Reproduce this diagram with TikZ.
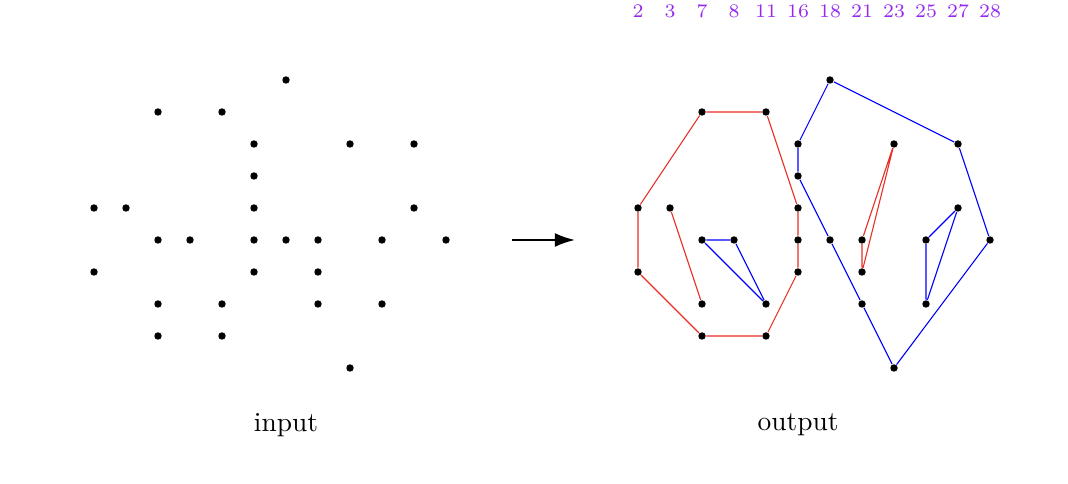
\documentclass[tikz,border=0pt]{standalone}
\usetikzlibrary{arrows.meta}
\definecolor{numviolet}{RGB}{150,40,235}
\definecolor{hullred}{RGB}{232,45,35}
\tikzset{
     pt/.style={circle, fill=black, inner sep=0pt, minimum size=2.7pt},
     xlabel/.style={text=numviolet, font=\scriptsize},
     redhull/.style={hullred, line width=0.4pt},
     bluehull/.style={blue, line width=0.4pt},
     maparrow/.style={black, thick, -{Latex[length=2.6mm,width=1.8mm]}},
    }

\begin{document}
\begin{tikzpicture}[x=0.41cm, y=0.41cm]
    \useasboundingbox (0,0) rectangle (33.375,-15.125);
    % the points, once on the left (a) and once on the right (b)
    \foreach \c/\r in {6/0, 2/1, 4/1, 5/2, 8/2, 10/2, 5/3, 0/4, 1/4, 5/4, 10/4,
                       2/5, 3/5, 5/5, 6/5, 7/5, 9/5, 11/5, 0/6, 5/6, 7/6,
                       2/7, 4/7, 7/7, 9/7, 2/8, 4/8, 8/9} {
        \node [pt] (a\c-\r) at (2.9375+\c, -2.5-\r) {};
        \node [pt] (b\c-\r) at (19.9375+\c, -2.5-\r) {};
    }
    % x values over the columns
    \foreach \v [count=\i from 0] in {2,3,7,8,11,16,18,21,23,25,27,28}
        \node [xlabel] (x\v) at (19.9375+\i, -0.34) {\v};

    \draw [redhull] (b2-1) -- (b4-1) -- (b5-4) -- (b5-5) -- (b5-6) -- (b4-8)
        -- (b2-8) -- (b0-6) -- (b0-4) -- (b2-1);
    \draw [redhull] (b1-4) -- (b2-7);
    \draw [redhull] (b8-2) -- (b7-5) -- (b7-6) -- (b8-2);
    \draw [bluehull] (b6-0) -- (b10-2) -- (b11-5) -- (b8-9) -- (b7-7) -- (b6-5)
        -- (b5-3) -- (b5-2) -- (b6-0);
    \draw [bluehull] (b2-5) -- (b3-5) -- (b4-7) -- (b2-5);
    \draw [bluehull] (b9-5) -- (b10-4) -- (b9-7) -- (b9-5);

    \coordinate (from) at (16,-7.5);
    \coordinate (to) at (17.97,-7.5);
    \draw [maparrow] (from) -- (to);

    \node (input) at (8.9375,-13.28) {input};
    \node (output) at (24.94,-13.28) {output};
\end{tikzpicture}
\end{document}
